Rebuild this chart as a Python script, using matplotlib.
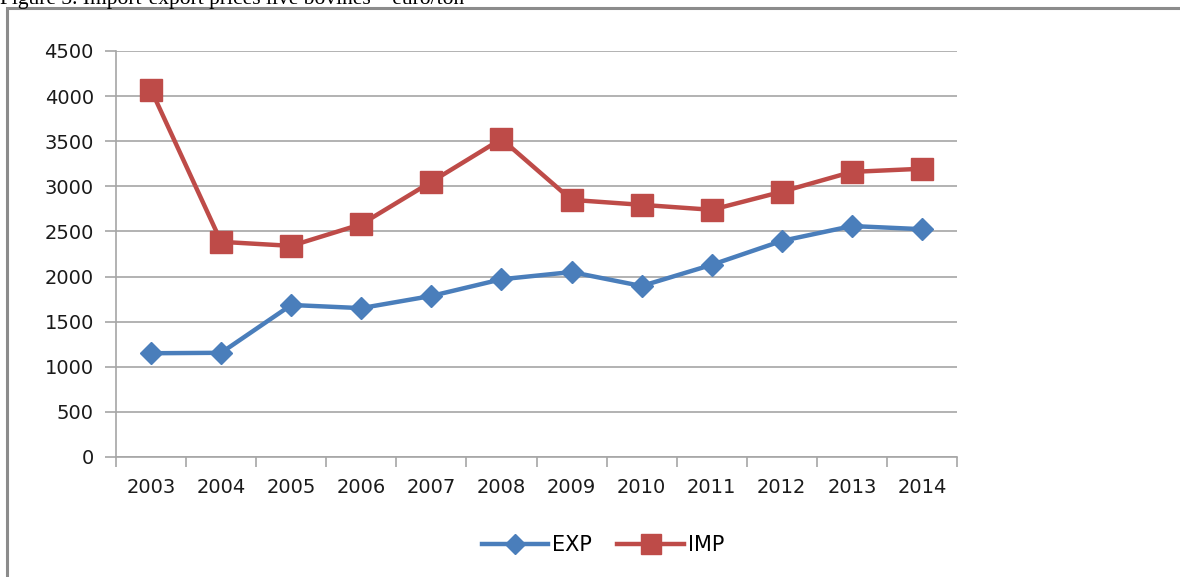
import numpy as np
import matplotlib.pyplot as plt
from matplotlib.patches import Rectangle

years = ['2003', '2004', '2005', '2006', '2007', '2008',
         '2009', '2010', '2011', '2012', '2013', '2014']
exp_prices = [1150, 1155, 1685, 1650, 1785, 1970, 2050, 1895, 2130, 2395, 2560, 2525]
imp_prices = [4070, 2385, 2340, 2580, 3050, 3525, 2850, 2795, 2740, 2940, 3160, 3195]

BLUE = '#4a7ebb'
RED = '#be4b48'
GRID = '#a6a6a6'

fig = plt.figure(figsize=(11.8, 5.77), dpi=100)

# caption, mostly cut off at the top of the page
fig.text(0.0, 1 - 4 / 577, 'Figure 3. Import-export prices live bovines \u2013 euro/ton',
         family='Liberation Serif', fontsize=15.5, va='baseline', ha='left')

# chart frame running off the right and bottom edge
fig.patches.append(Rectangle((7 / 1180, -0.1), 1.2, 1 - 8 / 577 + 0.1,
                             transform=fig.transFigure, fill=False,
                             edgecolor='#8c8c8c', linewidth=2.2))

ax = fig.add_axes([116 / 1180, 1 - 457 / 577, (957 - 116) / 1180, (457 - 51) / 577])
x = np.arange(len(years))
ax.plot(x, exp_prices, color=BLUE, lw=3.2, marker='D', ms=11.5, mec=BLUE, label='EXP', zorder=3)
ax.plot(x, imp_prices, color=RED, lw=3.2, marker='s', ms=15.5, mec=RED, label='IMP', zorder=3)

ax.set_xlim(-0.5, len(years) - 0.5)
ax.set_ylim(0, 4500)
ax.set_yticks(np.arange(0, 4501, 500))
ax.yaxis.grid(True, color=GRID, lw=1.2)
ax.set_axisbelow(True)

ax.set_xticks(x)
ax.set_xticklabels(years)
ax.set_xticks(np.arange(-0.5, len(years)), minor=True)
ax.tick_params(axis='x', which='major', length=0, pad=15, labelsize=14, labelcolor='#1a1a1a')
ax.tick_params(axis='x', which='minor', length=7, color=GRID, width=1.2, direction='out')
ax.tick_params(axis='y', length=8, color=GRID, width=1.2, pad=8, labelsize=14, labelcolor='#1a1a1a')

for side in ['top', 'right']:
    ax.spines[side].set_visible(False)
for side in ['left', 'bottom']:
    ax.spines[side].set_color(GRID)
    ax.spines[side].set_linewidth(1.2)

fig.legend(loc='center', bbox_to_anchor=(603 / 1180, 1 - 545 / 577), ncol=2, frameon=False,
           fontsize=15, handlelength=3.2, columnspacing=1.2, handletextpad=0.2,
           markerscale=0.9)

fig.savefig('out.png', dpi=100)
